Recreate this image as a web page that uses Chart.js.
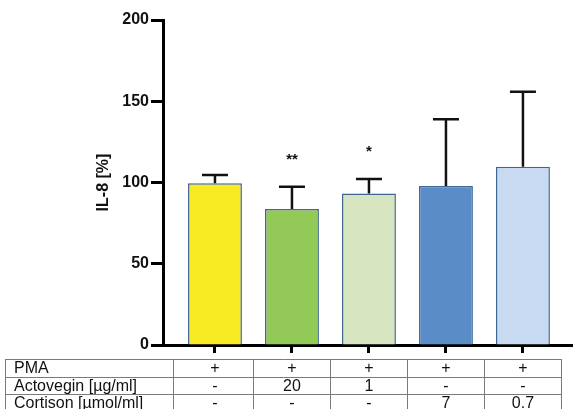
<!DOCTYPE html>
<html>
<head>
<meta charset="utf-8">
<script src="https://cdn.jsdelivr.net/npm/chart.js@4/dist/chart.umd.min.js"></script>
<style>
  html, body { margin: 0; padding: 0; background: #fff; }
  #wrap { width: 573px; height: 409px; }
</style>
</head>
<body>
<div id="wrap"><canvas id="il8Chart" width="573" height="409"></canvas></div>
<script>
// values
const groups = [0, 1, 2, 3, 4];
const means = [99.5, 83.7, 93.3, 97.8, 109.7];
const sds = [5.1, 13.7, 8.9, 41.1, 46.2];
const stars = ['', '**', '*', '', ''];
const barColors = ['#f7e922', '#93c957', '#d6e4bf', '#5a8cc8', '#c7daf1'];
const yTicks = [0, 50, 100, 150, 200];

// table under the axis
const rowLabels = ['PMA', 'Actovegin [µg/ml]', 'Cortison [µmol/ml]'];
const pmaRow = ['+', '+', '+', '+', '+'];
const actoRow = ['-', '20', '1', '-', '-'];
const cortRow = ['-', '-', '-', '7', '0.7'];

const errorBars = {
    id: 'errorBars',
    afterDatasetsDraw(chart) {
        const ctx = chart.ctx;
        const y = chart.scales.y;
        const meta = chart.getDatasetMeta(0);
        ctx.save();
        ctx.strokeStyle = '#111';
        ctx.lineWidth = 2.5;
        meta.data.forEach((bar, i) => {
            const top = y.getPixelForValue(means[i] + sds[i]);
            const base = y.getPixelForValue(means[i]);
            ctx.beginPath();
            ctx.moveTo(bar.x, base);
            ctx.lineTo(bar.x, top);
            ctx.moveTo(bar.x - 13, top);
            ctx.lineTo(bar.x + 13, top);
            ctx.stroke();
            if (stars[i]) {
                ctx.fillStyle = '#111';
                ctx.font = 'bold 15px "Liberation Sans", Arial, sans-serif';
                ctx.textAlign = 'center';
                ctx.textBaseline = 'middle';
                ctx.fillText(stars[i], bar.x, top - 27);
            }
        });
        ctx.restore();
    }
};

const tablePlugin = {
    id: 'tablePlugin',
    afterDraw(chart) {
        const ctx = chart.ctx;
        const x = chart.scales.x;
        const top = 359, rowH = 17.5, left = 5;
        const firstCol = x.getPixelForValue(-0.545);
        const right = x.getPixelForValue(4.5);
        const rows = [pmaRow, actoRow, cortRow];
        ctx.save();
        ctx.strokeStyle = '#7a7a7a';
        ctx.lineWidth = 1;
        ctx.beginPath();
        for (let r = 0; r <= 3; r++) {
            const ly = Math.round(top + r * rowH) + 0.5;
            ctx.moveTo(left, ly);
            ctx.lineTo(right, ly);
        }
        ctx.moveTo(left + 0.5, top);
        ctx.lineTo(left + 0.5, top + 3 * rowH);
        ctx.moveTo(Math.round(firstCol) + 0.5, top);
        ctx.lineTo(Math.round(firstCol) + 0.5, top + 3 * rowH);
        for (let i = 0; i < groups.length; i++) {
            const bx = Math.round(x.getPixelForValue(groups[i] + 0.5)) + 0.5;
            ctx.moveTo(bx, top);
            ctx.lineTo(bx, top + 3 * rowH);
        }
        ctx.stroke();

        ctx.fillStyle = '#111';
        ctx.font = '16px "Liberation Sans", Arial, sans-serif';
        ctx.textBaseline = 'middle';
        rows.forEach((row, r) => {
            const cy = top + r * rowH + rowH / 2 + 1;
            ctx.textAlign = 'left';
            ctx.fillText(rowLabels[r], left + 9, cy);
            ctx.textAlign = 'center';
            row.forEach((v, i) => ctx.fillText(v, x.getPixelForValue(groups[i]), cy));
        });
        ctx.restore();
    }
};

new Chart(document.getElementById('il8Chart'), {
    type: 'bar',
    data: {
        datasets: [{
            data: groups.map((g, i) => ({ x: g, y: means[i] })),
            backgroundColor: barColors,
            borderColor: '#3f6593',
            borderWidth: 1.5,
            barPercentage: 0.7,
            categoryPercentage: 1
        }]
    },
    options: {
        responsive: false,
        animation: false,
        layout: { padding: { top: 20, right: 0, bottom: 56, left: 0 } },
        plugins: { legend: { display: false }, tooltip: { enabled: false } },
        scales: {
            x: {
                type: 'linear',
                offset: false,
                min: -0.675,
                max: 4.65,
                afterFit: s => { s.height = 8; },
                ticks: { display: false, stepSize: 1, includeBounds: false },
                grid: { drawOnChartArea: false, offset: false, tickLength: 8, tickWidth: 3, tickColor: '#000' },
                border: { width: 3, color: '#000' }
            },
            y: {
                min: 0,
                max: 200,
                afterFit: s => { s.width = 163; },
                afterBuildTicks: s => { s.ticks = yTicks.map(v => ({ value: v })); },
                ticks: {
                    color: '#111',
                    padding: 2,
                    font: { family: '"Liberation Sans", Arial, sans-serif', size: 16, weight: 'bold' }
                },
                grid: { drawOnChartArea: false, tickLength: 12, tickWidth: 3, tickColor: '#000' },
                border: { width: 3, color: '#000' },
                title: {
                    display: true,
                    text: 'IL-8 [%]',
                    color: '#111',
                    padding: { top: 94, bottom: 0 },
                    font: { family: '"Liberation Sans", Arial, sans-serif', size: 16, weight: 'bold' }
                }
            }
        }
    },
    plugins: [errorBars, tablePlugin]
});
</script>
</body>
</html>
